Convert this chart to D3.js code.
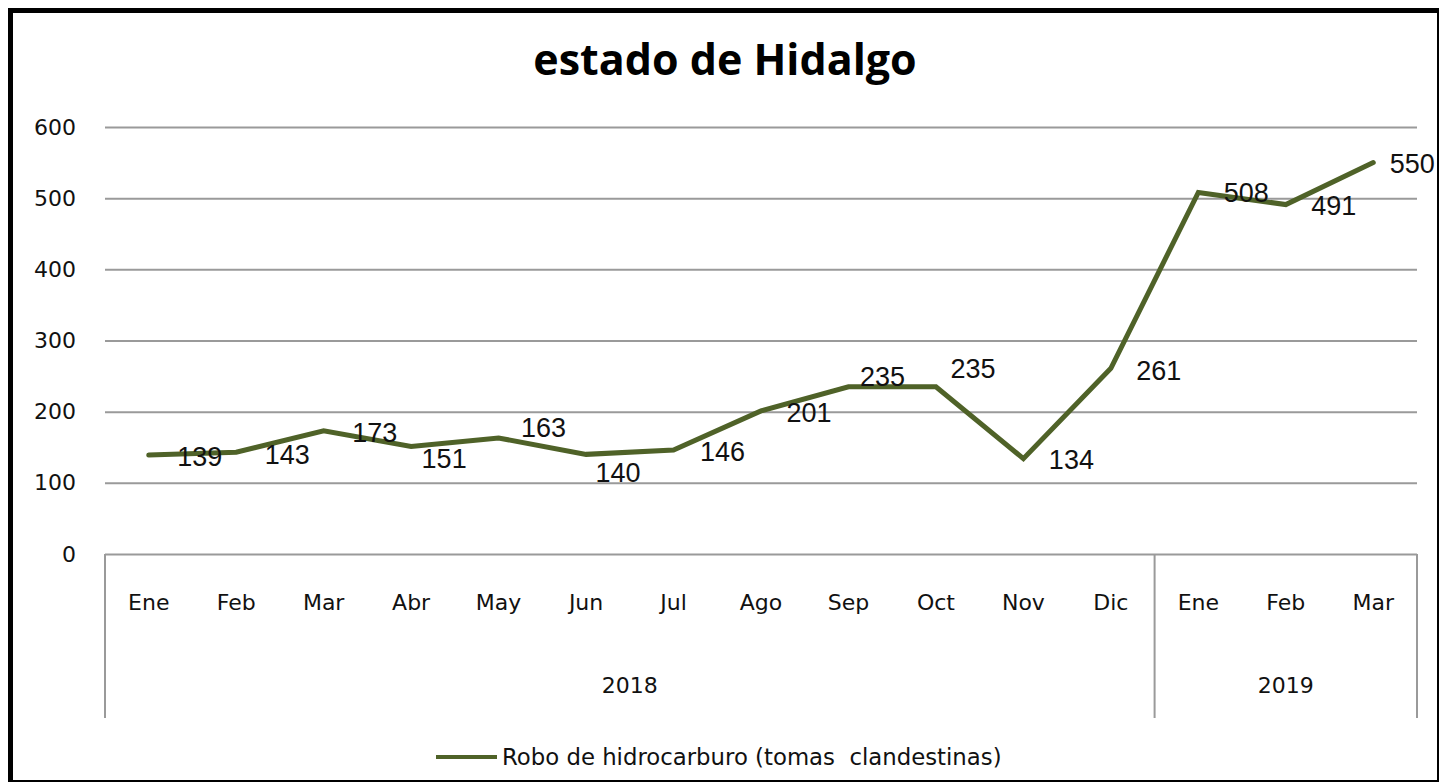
<!DOCTYPE html>
<html><head><meta charset="utf-8">
<script src="https://cdn.jsdelivr.net/npm/d3@7"></script>
<style>
html,body{margin:0;padding:0;background:#fff;}
svg{display:block;}
</style></head>
<body>
<svg id="chart" width="1439" height="782"></svg>
<script>
// ---- data ----
const months = ["Ene","Feb","Mar","Abr","May","Jun","Jul","Ago","Sep","Oct","Nov","Dic","Ene","Feb","Mar"];
const years = ["2018","2018","2018","2018","2018","2018","2018","2018","2018","2018","2018","2018","2019","2019","2019"];
const values = [139,143,173,151,163,140,146,201,235,235,134,261,508,491,550];
const yTicks = [0,100,200,300,400,500,600];
const seriesName = "Robo de hidrocarburo (tomas  clandestinas)";
const chartTitle = "estado de Hidalgo";

// label placement nudges (layout only)
const labelDx = [51,51,51,33,45,32,49,48,34,37,48,48,48,48,39];
const labelDy = [1,2,1,12,-11,18,1,1,-10,-18,1,2,0,1,1];

(function(){
const svg = d3.select("#chart");
const W = 1439, H = 782;
const pL = 105, pR = 1417, pT = 127, pB = 554, catB = 718;
const olive = "#4F6228";
const grid = "#9a9a9a";
const axisFont = "'DejaVu Sans', sans-serif";

// border
svg.append("rect").attr("x",0).attr("y",0).attr("width",W).attr("height",H).attr("fill","#fff");
svg.append("line").attr("x1",10.5).attr("x2",10.5).attr("y1",8).attr("y2",H).attr("stroke","#000").attr("stroke-width",5);
svg.append("line").attr("x1",8).attr("x2",W).attr("y1",10.5).attr("y2",10.5).attr("stroke","#000").attr("stroke-width",5);
svg.append("line").attr("x1",1438).attr("x2",1438).attr("y1",8).attr("y2",H).attr("stroke","#000").attr("stroke-width",2);
svg.append("line").attr("x1",8).attr("x2",W).attr("y1",781).attr("y2",781).attr("stroke","#000").attr("stroke-width",2);

// title
svg.append("text").attr("x",725).attr("y",75).attr("text-anchor","middle")
  .attr("font-family","'Open Sans', Lato, sans-serif").attr("font-weight","bold").attr("font-size",43)
  .attr("fill","#000").text(chartTitle);

// scales
const y = d3.scaleLinear().domain([0,600]).range([pB, pT]);
const x = d3.scaleBand().domain(d3.range(months.length)).range([pL, pR]).padding(0);
const cx = i => x(i) + x.bandwidth()/2;

// gridlines + y labels via axis
const yAxis = d3.axisLeft(y).tickValues(yTicks).tickSize(-(pR-pL)).tickPadding(29).tickFormat(d3.format("d"));
const yg = svg.append("g").attr("transform",`translate(${pL},0)`).call(yAxis);
yg.select(".domain").remove();
yg.selectAll(".tick line").attr("stroke",grid).attr("stroke-width",2);
yg.selectAll(".tick text").attr("font-family",axisFont).attr("font-size",22).attr("fill","#111");

// category axis lines
const sepIdx = years.findIndex(v => v === "2019");
const sepX = [pL, x(sepIdx), pR];
svg.append("g").selectAll("line").data(sepX).join("line")
  .attr("x1",d=>d).attr("x2",d=>d).attr("y1",pB).attr("y2",catB)
  .attr("stroke",grid).attr("stroke-width",2);

// month labels
svg.append("g").selectAll("text").data(months).join("text")
  .attr("x",(d,i)=>cx(i)).attr("y",610).attr("text-anchor","middle")
  .attr("font-family",axisFont).attr("font-size",22).attr("fill","#111")
  .text(d=>d);

// year labels
const yearGroups = d3.groups(years.map((yr,i)=>({yr,i})), d=>d.yr);
svg.append("g").selectAll("text").data(yearGroups).join("text")
  .attr("x",d=>{const a=d[1][0].i,b=d[1][d[1].length-1].i; return (x(a)+x(b)+x.bandwidth())/2;})
  .attr("y",693).attr("text-anchor","middle")
  .attr("font-family",axisFont).attr("font-size",22).attr("fill","#111")
  .text(d=>d[0]);

// line
const line = d3.line().x((d,i)=>cx(i)).y(d=>y(d));
svg.append("path").datum(values).attr("d",line).attr("fill","none")
  .attr("stroke",olive).attr("stroke-width",5).attr("stroke-linejoin","miter").attr("stroke-linecap","round");

// data labels
svg.append("g").selectAll("text").data(values).join("text")
  .attr("x",(d,i)=>cx(i)+labelDx[i]).attr("y",(d,i)=>y(d)+labelDy[i]).attr("dy","0.36em")
  .attr("text-anchor","middle")
  .attr("font-family","'Liberation Sans', Arial, sans-serif").attr("font-size",27).attr("fill","#111")
  .text(d=>d);

// legend
svg.append("line").attr("x1",436).attr("x2",497).attr("y1",757).attr("y2",757)
  .attr("stroke",olive).attr("stroke-width",4);
svg.append("text").attr("x",502).attr("y",765)
  .attr("font-family",axisFont).attr("font-size",22.8).attr("fill","#111")
  .style("white-space","pre")
  .text(seriesName);
})();
</script>
</body></html>
